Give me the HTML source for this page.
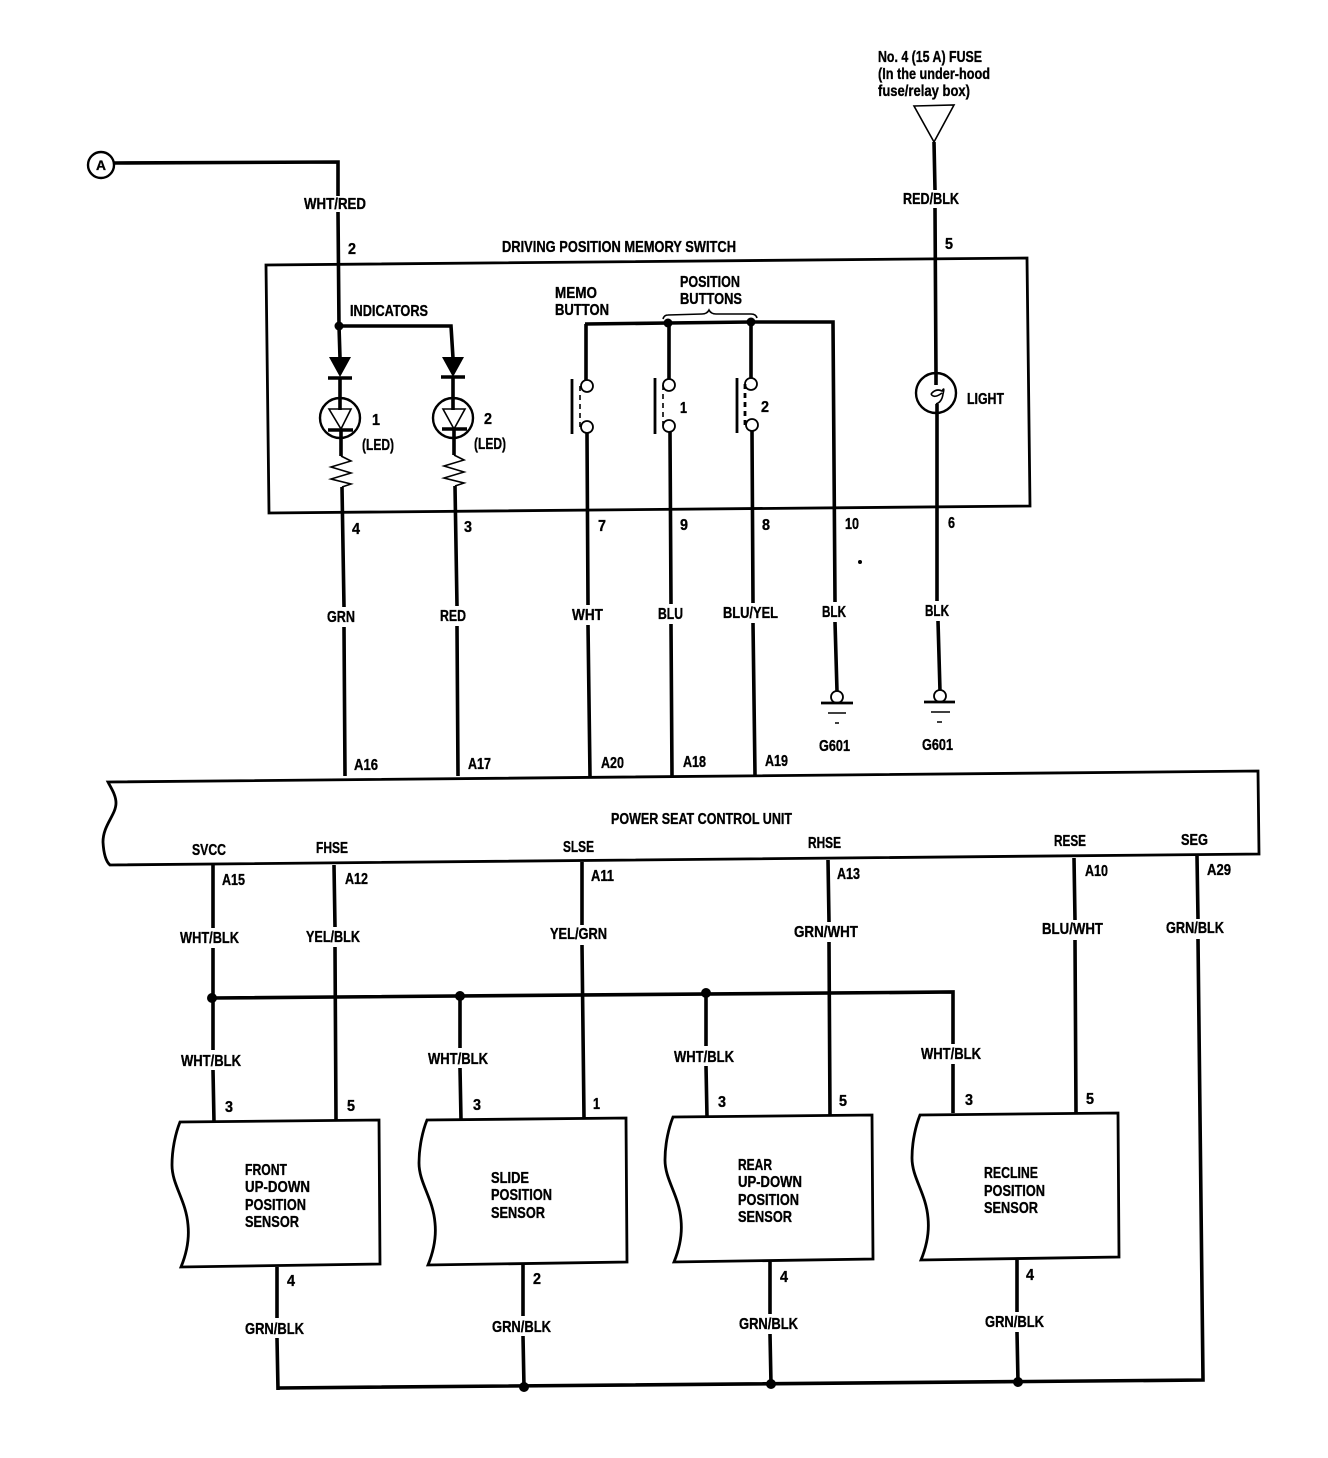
<!DOCTYPE html>
<html><head><meta charset="utf-8"><style>
html,body{margin:0;padding:0;background:#fff}
svg{display:block}
text{font-family:"Liberation Sans",sans-serif;font-weight:bold;font-size:16px;fill:#000;stroke:#000;stroke-width:.35px}
.w{stroke:#000;stroke-width:3.6;fill:none}
.t{stroke:#000;stroke-width:2.8;fill:none}
.n{stroke:#000;stroke-width:1.6;fill:none}
.c{stroke:#000;stroke-width:2.4;fill:#fff}
</style></head><body>
<svg width="1328" height="1458" viewBox="0 0 1328 1458" xmlns="http://www.w3.org/2000/svg">
<!-- fuse -->
<path class="n" d="M914,106 L954,105 L934,142 Z"/>
<path class="w" d="M934,142 L935,190 M935,208 L936,375"/>
<!-- A -->
<circle class="c" cx="101" cy="165" r="13"/>
<path class="w" d="M114,163 L338,162 L338,196 M338,212 L339,326 L340,358"/>
<!-- switch box -->
<path class="t" d="M266,265 L1027,258 L1030,506 L269,513 Z"/>
<!-- LEDs -->
<path class="w" d="M339,326 L451,326 L453,358"/>
<circle cx="339" cy="326" r="4.5"/>
<path d="M329,357 L351,357 L340,377 Z"/><path d="M442,357 L464,357 L453,377 Z"/>
<path class="w" d="M328,378 L352,378 M441,377 L465,377 M340,378 L340,410 M453,377 L453,410"/>
<circle class="c" cx="340" cy="418" r="20" style="fill:none"/>
<circle class="c" cx="453" cy="418" r="20" style="fill:none"/>
<path class="n" d="M329,409 L351,409 L341,429 Z M443,409 L465,409 L454,429 Z"/>
<path class="w" d="M328,430 L353,430 M442,429 L467,429 M341,430 L341,456 M454,429 L454,455"/>
<path class="n" d="M341,456 L351,461 L331,467 L351,473 L331,479 L351,484 L342,487 M454,455 L464,460 L444,466 L464,472 L444,478 L464,483 L455,486"/>
<path class="w" d="M342,487 L344,607 M344,627 L345,776 M455,486 L457,606 M457,626 L458,776"/>
<!-- buttons -->
<path class="w" d="M585,324 L668,323 L751,322 L833,322 L835,602 M835,622 L837,691"/>
<circle cx="668" cy="323" r="4.5"/><circle cx="751" cy="322" r="4.5"/>
<path class="n" d="M663,319 Q664,315 668,315 L702,314 Q707,314 709,310 Q711,314 716,314 L751,314 Q756,314 757,318"/>
<path class="w" d="M586,324 L586,381 M669,323 L669,380 M751,322 L751,379"/>
<g fill="#fff" stroke="#000" stroke-width="1.8">
<circle cx="587" cy="386" r="6"/><circle cx="587" cy="427" r="6"/>
<circle cx="669" cy="385" r="6"/><circle cx="669" cy="426" r="6"/>
<circle cx="751" cy="384" r="6"/><circle cx="752" cy="425" r="6"/>
</g>
<path class="t" d="M572,379 L572,434 M655,378 L655,434 M737,378 L737,433"/>
<path class="n" stroke-dasharray="5,4" d="M580,386 L580,427 M663,385 L663,426"/>
<path class="t" stroke-dasharray="5,4" d="M745,384 L745,425"/>
<path class="w" d="M587,433 L588,605 M588,625 L590,776 M670,432 L671,604 M671,624 L672,776 M752,431 L753,603 M753,623 L755,775"/>
<!-- bulb -->
<circle class="c" cx="936" cy="393" r="20" style="fill:none"/>
<path class="w" d="M936,375 L936,385 M937,404 L937,601 M938,621 L940,691"/>
<path class="n" d="M931,394 Q936,388 942,391 Q945,386 943,394 Q942,402 936,404 M931,394 Q934,399 942,393"/>
<!-- grounds -->
<circle cx="837" cy="697" r="6" fill="#fff" stroke="#000" stroke-width="1.8"/>
<circle cx="940" cy="696" r="6" fill="#fff" stroke="#000" stroke-width="1.8"/>
<path class="t" d="M821,703 L853,703 M924,702 L955,702"/>
<path class="n" d="M828,713 L846,713 M931,712 L950,712 M835,723 L839,723 M937,722 L942,722"/>
<!-- control unit -->
<path class="t" d="M108,782 L1258,771 L1259,854 L110,865 Q104,860 103,842 C103,825 116,815 116,803 C116,795 111,788 108,782 Z"/>
<!-- lower wires -->
<path class="w" d="M213,865 L213,928 M213,948 L213,1050 M213,1070 L214,1122"/>
<path class="w" d="M334,865 L335,927 M335,947 L336,1120"/>
<path class="w" d="M582,862 L582,925 M582,945 L584,1118"/>
<path class="w" d="M828,860 L829,922 M829,942 L830,1116"/>
<path class="w" d="M1074,858 L1075,920 M1075,940 L1076,1113"/>
<path class="w" d="M1197,856 L1198,919 M1198,939 L1203,1380 L278,1388"/>
<path class="w" d="M212,998 L953,992 L953,1044 M953,1064 L953,1113"/>
<path class="w" d="M460,996 L460,1048 M460,1068 L461,1120 M706,993 L706,1046 M706,1066 L707,1117"/>
<path class="w" d="M277,1267 L277,1318 M277,1338 L278,1390"/>
<path class="w" d="M523,1265 L523,1316 M523,1336 L524,1387 M770,1262 L770,1314 M770,1334 L771,1384 M1017,1260 L1017,1312 M1017,1332 L1018,1382"/>
<circle cx="212" cy="998" r="5"/><circle cx="460" cy="996" r="5"/><circle cx="706" cy="993" r="5"/>
<circle cx="524" cy="1387" r="5"/><circle cx="771" cy="1384" r="5"/><circle cx="1018" cy="1382" r="5"/>
<!-- sensors -->
<path class="t" d="M180,1122 L379,1120 L380,1264 L181,1267 Q190,1245 188,1225 C186,1200 172,1185 172,1165 C172,1148 176,1132 180,1122 Z"/>
<path class="t" d="M427,1120 L626,1118 L627,1262 L428,1265 Q437,1243 435,1223 C433,1198 419,1183 419,1163 C419,1146 423,1130 427,1120 Z"/>
<path class="t" d="M673,1117 L872,1115 L873,1259 L674,1262 Q683,1240 681,1220 C679,1195 665,1180 665,1160 C665,1143 669,1127 673,1117 Z"/>
<path class="t" d="M920,1115 L1118,1113 L1119,1257 L921,1260 Q930,1238 928,1218 C926,1193 912,1178 912,1158 C912,1141 916,1125 920,1115 Z"/>
<!-- labels -->
<text x="96" y="170" textLength="10" lengthAdjust="spacingAndGlyphs" style="font-size:14px">A</text>
<text x="878" y="62" textLength="104" lengthAdjust="spacingAndGlyphs">No. 4 (15 A) FUSE</text>
<text x="878" y="79" textLength="112" lengthAdjust="spacingAndGlyphs">(In the under-hood</text>
<text x="878" y="96" textLength="92" lengthAdjust="spacingAndGlyphs">fuse/relay box)</text>
<text x="304" y="209" textLength="62" lengthAdjust="spacingAndGlyphs">WHT/RED</text>
<text x="348" y="254" textLength="8" lengthAdjust="spacingAndGlyphs">2</text>
<text x="903" y="204" textLength="56" lengthAdjust="spacingAndGlyphs">RED/BLK</text>
<text x="945" y="249" textLength="8" lengthAdjust="spacingAndGlyphs">5</text>
<text x="502" y="252" textLength="234" lengthAdjust="spacingAndGlyphs">DRIVING POSITION MEMORY SWITCH</text>
<text x="555" y="298" textLength="42" lengthAdjust="spacingAndGlyphs">MEMO</text>
<text x="555" y="315" textLength="54" lengthAdjust="spacingAndGlyphs">BUTTON</text>
<text x="680" y="287" textLength="60" lengthAdjust="spacingAndGlyphs">POSITION</text>
<text x="680" y="304" textLength="62" lengthAdjust="spacingAndGlyphs">BUTTONS</text>
<text x="350" y="316" textLength="78" lengthAdjust="spacingAndGlyphs">INDICATORS</text>
<text x="372" y="425" textLength="8" lengthAdjust="spacingAndGlyphs">1</text>
<text x="362" y="450" textLength="32" lengthAdjust="spacingAndGlyphs">(LED)</text>
<text x="484" y="424" textLength="8" lengthAdjust="spacingAndGlyphs">2</text>
<text x="474" y="449" textLength="32" lengthAdjust="spacingAndGlyphs">(LED)</text>
<text x="680" y="413" textLength="7" lengthAdjust="spacingAndGlyphs">1</text>
<text x="761" y="412" textLength="8" lengthAdjust="spacingAndGlyphs">2</text>
<text x="967" y="404" textLength="37" lengthAdjust="spacingAndGlyphs">LIGHT</text>
<text x="352" y="534" textLength="8" lengthAdjust="spacingAndGlyphs">4</text>
<text x="464" y="532" textLength="8" lengthAdjust="spacingAndGlyphs">3</text>
<text x="598" y="531" textLength="8" lengthAdjust="spacingAndGlyphs">7</text>
<text x="680" y="530" textLength="8" lengthAdjust="spacingAndGlyphs">9</text>
<text x="762" y="530" textLength="8" lengthAdjust="spacingAndGlyphs">8</text>
<text x="845" y="529" textLength="14" lengthAdjust="spacingAndGlyphs">10</text>
<text x="948" y="528" textLength="7" lengthAdjust="spacingAndGlyphs">6</text>
<text x="327" y="622" textLength="28" lengthAdjust="spacingAndGlyphs">GRN</text>
<text x="440" y="621" textLength="26" lengthAdjust="spacingAndGlyphs">RED</text>
<text x="572" y="620" textLength="31" lengthAdjust="spacingAndGlyphs">WHT</text>
<text x="658" y="619" textLength="25" lengthAdjust="spacingAndGlyphs">BLU</text>
<text x="723" y="618" textLength="55" lengthAdjust="spacingAndGlyphs">BLU/YEL</text>
<text x="822" y="617" textLength="24" lengthAdjust="spacingAndGlyphs">BLK</text>
<text x="925" y="616" textLength="24" lengthAdjust="spacingAndGlyphs">BLK</text>
<text x="819" y="751" textLength="31" lengthAdjust="spacingAndGlyphs">G601</text>
<text x="922" y="750" textLength="31" lengthAdjust="spacingAndGlyphs">G601</text>
<text x="354" y="770" textLength="24" lengthAdjust="spacingAndGlyphs">A16</text>
<text x="468" y="769" textLength="23" lengthAdjust="spacingAndGlyphs">A17</text>
<text x="601" y="768" textLength="23" lengthAdjust="spacingAndGlyphs">A20</text>
<text x="683" y="767" textLength="23" lengthAdjust="spacingAndGlyphs">A18</text>
<text x="765" y="766" textLength="23" lengthAdjust="spacingAndGlyphs">A19</text>
<text x="611" y="824" textLength="181" lengthAdjust="spacingAndGlyphs">POWER SEAT CONTROL UNIT</text>
<text x="192" y="855" textLength="34" lengthAdjust="spacingAndGlyphs">SVCC</text>
<text x="316" y="853" textLength="32" lengthAdjust="spacingAndGlyphs">FHSE</text>
<text x="563" y="852" textLength="31" lengthAdjust="spacingAndGlyphs">SLSE</text>
<text x="808" y="848" textLength="33" lengthAdjust="spacingAndGlyphs">RHSE</text>
<text x="1054" y="846" textLength="32" lengthAdjust="spacingAndGlyphs">RESE</text>
<text x="1181" y="845" textLength="27" lengthAdjust="spacingAndGlyphs">SEG</text>
<text x="222" y="885" textLength="23" lengthAdjust="spacingAndGlyphs">A15</text>
<text x="345" y="884" textLength="23" lengthAdjust="spacingAndGlyphs">A12</text>
<text x="591" y="881" textLength="23" lengthAdjust="spacingAndGlyphs">A11</text>
<text x="837" y="879" textLength="23" lengthAdjust="spacingAndGlyphs">A13</text>
<text x="1085" y="876" textLength="23" lengthAdjust="spacingAndGlyphs">A10</text>
<text x="1207" y="875" textLength="24" lengthAdjust="spacingAndGlyphs">A29</text>
<text x="180" y="943" textLength="59" lengthAdjust="spacingAndGlyphs">WHT/BLK</text>
<text x="306" y="942" textLength="54" lengthAdjust="spacingAndGlyphs">YEL/BLK</text>
<text x="550" y="939" textLength="57" lengthAdjust="spacingAndGlyphs">YEL/GRN</text>
<text x="794" y="937" textLength="64" lengthAdjust="spacingAndGlyphs">GRN/WHT</text>
<text x="1042" y="934" textLength="61" lengthAdjust="spacingAndGlyphs">BLU/WHT</text>
<text x="1166" y="933" textLength="58" lengthAdjust="spacingAndGlyphs">GRN/BLK</text>
<text x="181" y="1066" textLength="60" lengthAdjust="spacingAndGlyphs">WHT/BLK</text>
<text x="428" y="1064" textLength="60" lengthAdjust="spacingAndGlyphs">WHT/BLK</text>
<text x="674" y="1062" textLength="60" lengthAdjust="spacingAndGlyphs">WHT/BLK</text>
<text x="921" y="1059" textLength="60" lengthAdjust="spacingAndGlyphs">WHT/BLK</text>
<text x="225" y="1112" textLength="8" lengthAdjust="spacingAndGlyphs">3</text>
<text x="347" y="1111" textLength="8" lengthAdjust="spacingAndGlyphs">5</text>
<text x="473" y="1110" textLength="8" lengthAdjust="spacingAndGlyphs">3</text>
<text x="593" y="1109" textLength="7" lengthAdjust="spacingAndGlyphs">1</text>
<text x="718" y="1107" textLength="8" lengthAdjust="spacingAndGlyphs">3</text>
<text x="839" y="1106" textLength="8" lengthAdjust="spacingAndGlyphs">5</text>
<text x="965" y="1105" textLength="8" lengthAdjust="spacingAndGlyphs">3</text>
<text x="1086" y="1104" textLength="8" lengthAdjust="spacingAndGlyphs">5</text>
<text x="245" y="1175" textLength="42" lengthAdjust="spacingAndGlyphs">FRONT</text>
<text x="245" y="1192" textLength="65" lengthAdjust="spacingAndGlyphs">UP-DOWN</text>
<text x="245" y="1210" textLength="61" lengthAdjust="spacingAndGlyphs">POSITION</text>
<text x="245" y="1227" textLength="54" lengthAdjust="spacingAndGlyphs">SENSOR</text>
<text x="491" y="1183" textLength="38" lengthAdjust="spacingAndGlyphs">SLIDE</text>
<text x="491" y="1200" textLength="61" lengthAdjust="spacingAndGlyphs">POSITION</text>
<text x="491" y="1218" textLength="54" lengthAdjust="spacingAndGlyphs">SENSOR</text>
<text x="738" y="1170" textLength="34" lengthAdjust="spacingAndGlyphs">REAR</text>
<text x="738" y="1187" textLength="64" lengthAdjust="spacingAndGlyphs">UP-DOWN</text>
<text x="738" y="1205" textLength="61" lengthAdjust="spacingAndGlyphs">POSITION</text>
<text x="738" y="1222" textLength="54" lengthAdjust="spacingAndGlyphs">SENSOR</text>
<text x="984" y="1178" textLength="54" lengthAdjust="spacingAndGlyphs">RECLINE</text>
<text x="984" y="1196" textLength="61" lengthAdjust="spacingAndGlyphs">POSITION</text>
<text x="984" y="1213" textLength="54" lengthAdjust="spacingAndGlyphs">SENSOR</text>
<text x="287" y="1286" textLength="8" lengthAdjust="spacingAndGlyphs">4</text>
<text x="533" y="1284" textLength="8" lengthAdjust="spacingAndGlyphs">2</text>
<text x="780" y="1282" textLength="8" lengthAdjust="spacingAndGlyphs">4</text>
<text x="1026" y="1280" textLength="8" lengthAdjust="spacingAndGlyphs">4</text>
<text x="245" y="1334" textLength="59" lengthAdjust="spacingAndGlyphs">GRN/BLK</text>
<text x="492" y="1332" textLength="59" lengthAdjust="spacingAndGlyphs">GRN/BLK</text>
<text x="739" y="1329" textLength="59" lengthAdjust="spacingAndGlyphs">GRN/BLK</text>
<text x="985" y="1327" textLength="59" lengthAdjust="spacingAndGlyphs">GRN/BLK</text>
<circle cx="860" cy="562" r="2"/>
</svg>
</body></html>
